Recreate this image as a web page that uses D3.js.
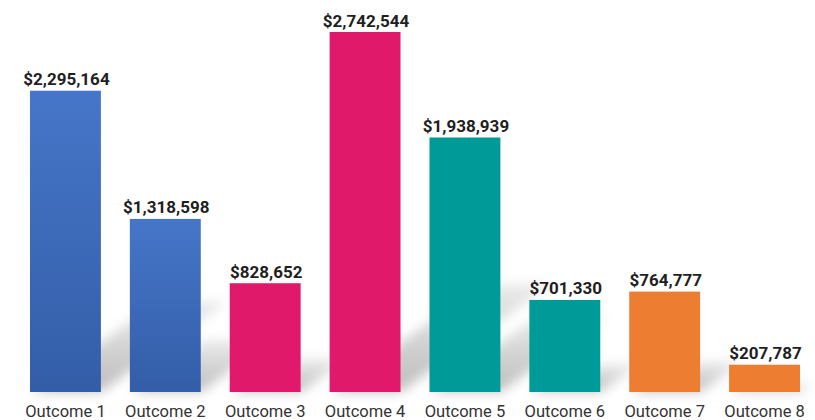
<!DOCTYPE html>
<html>
<head>
<meta charset="utf-8">
<script src="https://cdn.jsdelivr.net/npm/d3@7"></script>
<style>
  html, body { margin: 0; padding: 0; background: #fff; }
  svg { display: block; font-family: Roboto, "Noto Sans", sans-serif; }
</style>
</head>
<body>
<svg id="chart" width="815" height="420"></svg>
<script>
const categories = ["Outcome 1", "Outcome 2", "Outcome 3", "Outcome 4", "Outcome 5", "Outcome 6", "Outcome 7", "Outcome 8"];
const values = [2295164, 1318598, 828652, 2742544, 1938939, 701330, 764777, 207787];
const colorKeys = ["blue", "blue", "pink", "pink", "teal", "teal", "orange", "orange"];

const palette = {
  blue: "url(#blueGrad)",
  pink: "#e0196a",
  teal: "#009a99",
  orange: "#ed7d31"
};

const svg = d3.select("#chart");
const baseY = 392;

const x = d3.scaleBand()
  .domain(categories)
  .range([15.5, 814.5])
  .paddingInner(0.29)
  .paddingOuter(0.145);

const y = d3.scaleLinear()
  .domain([0, 2742544])
  .range([baseY, 32]);

const defs = svg.append("defs");
const grad = defs.append("linearGradient")
  .attr("id", "blueGrad").attr("x1", 0).attr("y1", 0).attr("x2", 0).attr("y2", 1);
grad.append("stop").attr("offset", "0%").attr("stop-color", "#4676c9");
grad.append("stop").attr("offset", "100%").attr("stop-color", "#335da7");

const blur = defs.append("filter").attr("id", "shadowBlur")
  .attr("x", "-50%").attr("y", "-50%").attr("width", "200%").attr("height", "200%");
blur.append("feGaussianBlur").attr("stdDeviation", 6);

const sgrad = defs.append("linearGradient")
  .attr("id", "shadowGrad").attr("x1", 0).attr("y1", 1).attr("x2", 0).attr("y2", 0);
sgrad.append("stop").attr("offset", "0%").attr("stop-color", "#000").attr("stop-opacity", 0.26);
sgrad.append("stop").attr("offset", "100%").attr("stop-color", "#000").attr("stop-opacity", 0.08);

const data = categories.map((c, i) => ({ cat: c, value: values[i], key: colorKeys[i] }));

// shadows
const shadowScale = 0.3, shear = 1.4;
svg.append("g")
  .attr("filter", "url(#shadowBlur)")
  .selectAll("polygon")
  .data(data)
  .join("polygon")
  .attr("points", d => {
    const l = x(d.cat) + 2, r = x(d.cat) + x.bandwidth();
    const h = (baseY - y(d.value)) * shadowScale;
    return [[l, baseY], [r, baseY], [r + shear * h, baseY - h], [l + shear * h, baseY - h]]
      .map(p => p.join(",")).join(" ");
  })
  .attr("fill", "url(#shadowGrad)");

// bars
svg.append("g")
  .selectAll("rect")
  .data(data)
  .join("rect")
  .attr("x", d => x(d.cat))
  .attr("y", d => y(d.value))
  .attr("width", x.bandwidth())
  .attr("height", d => baseY - y(d.value))
  .attr("fill", d => palette[d.key]);

// value labels
const fmt = d3.format("$,");
svg.append("g")
  .selectAll("text")
  .data(data)
  .join("text")
  .attr("x", d => x(d.cat) + x.bandwidth() / 2 + 1)
  .attr("y", d => y(d.value) - 5.5)
  .attr("text-anchor", "middle")
  .attr("font-size", 17)
  .attr("font-weight", 700)
  .attr("fill", "#1f1f1f")
  .text(d => fmt(d.value));

// category axis labels
const axis = d3.axisBottom(x).tickSize(0).tickPadding(0);
const ag = svg.append("g").attr("transform", `translate(0,${baseY})`).call(axis);
ag.select(".domain").remove();
ag.selectAll("text")
  .attr("dy", 0)
  .attr("y", 24.5)
  .attr("font-size", 16.5)
  .attr("font-family", "Roboto, sans-serif")
  .attr("fill", "#333");
</script>
</body>
</html>
